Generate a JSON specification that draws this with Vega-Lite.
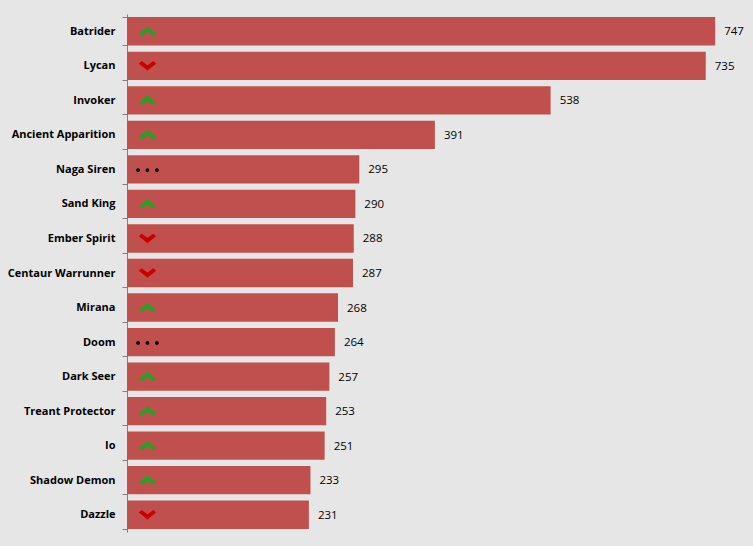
{
  "$schema": "https://vega.github.io/schema/vega-lite/v6.json",
  "autosize": {"type": "none"},
  "padding": {"left": 127, "top": 14, "right": 0, "bottom": 14},
  "width": 626,
  "height": 518,
  "background": "#e6e6e6",
  "config": {"view": {"stroke": null}},
  "data": {
    "values": [
      {"hero": "Batrider", "count": 747, "trend": "up"},
      {"hero": "Lycan", "count": 735, "trend": "down"},
      {"hero": "Invoker", "count": 538, "trend": "up"},
      {"hero": "Ancient Apparition", "count": 391, "trend": "up"},
      {"hero": "Naga Siren", "count": 295, "trend": "flat"},
      {"hero": "Sand King", "count": 290, "trend": "up"},
      {"hero": "Ember Spirit", "count": 288, "trend": "down"},
      {"hero": "Centaur Warrunner", "count": 287, "trend": "down"},
      {"hero": "Mirana", "count": 268, "trend": "up"},
      {"hero": "Doom", "count": 264, "trend": "flat"},
      {"hero": "Dark Seer", "count": 257, "trend": "up"},
      {"hero": "Treant Protector", "count": 253, "trend": "up"},
      {"hero": "Io", "count": 251, "trend": "up"},
      {"hero": "Shadow Demon", "count": 233, "trend": "up"},
      {"hero": "Dazzle", "count": 231, "trend": "down"}
    ]
  },
  "encoding": {
    "y": {
      "field": "hero",
      "type": "nominal",
      "sort": null,
      "scale": {"paddingInner": 0.18, "paddingOuter": 0.09},
      "axis": {
        "title": null,
        "tickBand": "extent",
        "domainColor": "#808080",
        "tickColor": "#808080",
        "tickSize": 5,
        "labelPadding": 7,
        "labelFont": "Open Sans",
        "labelFontSize": 11,
        "labelFontWeight": "bold",
        "labelColor": "#000000"
      }
    }
  },
  "layer": [
    {
      "mark": {"type": "bar", "color": "#c0504d"},
      "encoding": {
        "x": {"field": "count", "type": "quantitative", "scale": {"domain": [0, 795], "nice": false}, "axis": null}
      }
    },
    {
      "mark": {"type": "text", "align": "left", "baseline": "middle", "dx": 9, "dy": 1, "font": "Open Sans", "fontSize": 11.5, "color": "#000000"},
      "encoding": {
        "x": {"field": "count", "type": "quantitative"},
        "text": {"field": "count", "type": "quantitative"}
      }
    },
    {
      "mark": {"type": "point", "filled": true, "opacity": 1, "size": 300},
      "encoding": {
        "x": {"datum": 26},
        "shape": {
          "field": "trend",
          "type": "nominal",
          "legend": null,
          "scale": {
            "domain": ["up", "down", "flat"],
            "range": [
              "M-1,0.25L0,-0.55L1,0.25L0.68,0.55L0,0.07L-0.68,0.55Z",
              "M-1,-0.25L0,0.55L1,-0.25L0.68,-0.55L0,-0.07L-0.68,-0.55Z",
              "M-1.3,0.1a0.22,0.22 0 1,0 0.44,0a0.22,0.22 0 1,0 -0.44,0M-0.22,0.1a0.22,0.22 0 1,0 0.44,0a0.22,0.22 0 1,0 -0.44,0M0.86,0.1a0.22,0.22 0 1,0 0.44,0a0.22,0.22 0 1,0 -0.44,0"
            ]
          }
        },
        "color": {
          "field": "trend",
          "type": "nominal",
          "legend": null,
          "scale": {"domain": ["up", "down", "flat"], "range": ["#26a026", "#cc0000", "#000000"]}
        }
      }
    }
  ]
}
